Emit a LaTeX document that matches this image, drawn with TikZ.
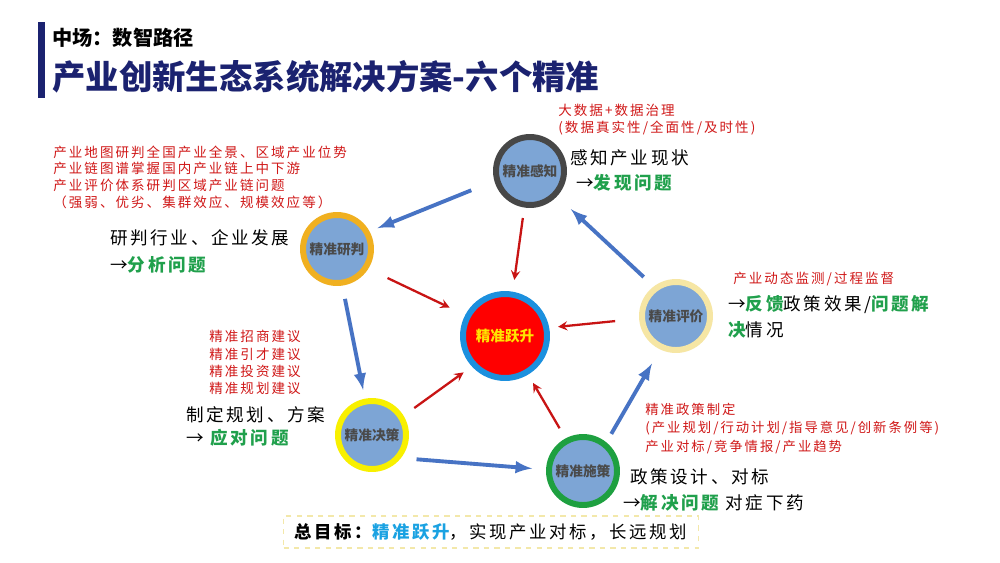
\documentclass[tikz,border=0pt]{standalone}
\usepackage{fontspec}
\setmainfont{Noto Sans CJK SC}
\newfontfamily\widecjk[LetterSpace=15]{Noto Sans CJK SC}
\usetikzlibrary{arrows}
\definecolor{navy}{HTML}{1B2270}
\definecolor{cellblue}{HTML}{7DA5D5}
\definecolor{flowblue}{HTML}{4773C4}
\definecolor{liftred}{HTML}{C81414}
\definecolor{notered}{HTML}{D01818}
\definecolor{okgreen}{HTML}{20A04C}
\definecolor{ringtext}{HTML}{4A4A4A}
\definecolor{goalblue}{HTML}{1AA2E2}

\begin{document}
\begin{tikzpicture}[x=0.02cm,y=-0.02cm,
  cell/.style={circle,minimum size=1.36cm,inner sep=0pt,outer sep=0pt,line width=3.4pt,fill=cellblue,
    text=ringtext,font=\fontsize{7.8}{9}\selectfont\bfseries},
  flow/.style={->,>=latex,line width=2.2pt,draw=flowblue},
  lift/.style={->,>=stealth,line width=1.3pt,draw=liftred},
  redtxt/.style={anchor=west,align=left,inner sep=0pt,text=notered,font=\widecjk\fontsize{7.7}{9.8}\selectfont},
  blacktxt/.style={anchor=west,align=left,inner sep=0pt,font=\widecjk\fontsize{10}{15}\selectfont}]
 \useasboundingbox (0,0) rectangle (1000,562);
 \fill[white] (0,0) rectangle (1000,562);

 % heading
 \fill[navy] (38,22) rectangle (45,98);
 \node[anchor=west,inner sep=0pt,font=\fontsize{11.5}{13}\selectfont\bfseries] (sub) at (52,38) {中场：数智路径};
 \node[anchor=west,inner sep=0pt,text=navy,font=\fontsize{19}{21}\selectfont\bfseries] (title) at (52,77) {产业创新生态系统解决方案-六个精准};

 % circles
 \node[cell,draw=black!72] (zhi) at (530,171) {精准感知};
 \node[cell,draw={rgb,255:red,240;green,176;blue,32}] (pan) at (337,249) {精准研判};
 \node[cell,draw={rgb,255:red,246;green,230;blue,164}] (ping) at (676,316) {精准评价};
 \node[cell,draw={rgb,255:red,248;green,240;blue,0}] (ce) at (372,435) {精准决策};
 \node[cell,draw={rgb,255:red,30;green,160;blue,64}] (shi) at (583,471) {精准施策};
 \node[circle,minimum size=1.68cm,inner sep=0pt,outer sep=0pt,line width=3.4pt,draw={rgb,255:red,28;green,144;blue,222},fill=red,
   text={rgb,255:red,255;green,228;blue,0},font=\fontsize{8.3}{10}\selectfont\bfseries] (yue) at (505,336) {精准跃升};

 % cycle
 \draw[flow,shorten <=15.9pt,shorten >=6.6pt] (zhi.195) -- (pan.29);
 \draw[flow,shorten <=9.4pt,shorten >=6.8pt] (pan.-82) -- (ce.101);
 \draw[flow,shorten <=11pt,shorten >=9.7pt] (ce.-42) -- (shi.178);
 \draw[flow,shorten <=7.3pt,shorten >=11pt] (shi.50) -- (ping.245);
 \draw[flow,shorten <=9.6pt,shorten >=12.5pt] (ping.126) -- (zhi.-43);

 % into the centre
 \draw[lift,shorten <=7.7pt,shorten >=8.5pt] (zhi.261) -- (yue.80);
 \draw[lift,shorten <=13.9pt,shorten >=11.5pt] (pan.-33) -- (yue.152);
 \draw[lift,shorten <=15.4pt,shorten >=6.8pt] (ping.184) -- (yue.11);
 \draw[lift,shorten <=9.2pt,shorten >=7.5pt] (ce.31) -- (yue.223);
 \draw[lift,shorten <=8.4pt,shorten >=7.2pt] (shi.118) -- (yue.-59);

 % notes
 \node[redtxt] (zhinote) at (558,119.7) {大数据+数据治理\\(数据真实性/全面性/及时性)};
 \node[blacktxt] (zhitxt) at (570,158) {感知产业现状};
 \node[blacktxt] (zhigoal) at (576,183) {→\textcolor{okgreen}{\bfseries 发现问题}};

 \node[redtxt,font=\widecjk\fontsize{7.7}{9.5}\selectfont] (pannote) at (53,177) {产业地图研判全国产业全景、区域产业位势\\产业链图谱掌握国内产业链上中下游\\产业评价体系研判区域产业链问题\\（强弱、优劣、集群效应、规模效应等）};
 \node[blacktxt,font=\widecjk\fontsize{10}{15.4}\selectfont] (pantxt) at (110,251.5) {研判行业、企业发展\\→\textcolor{okgreen}{\bfseries 分析问题}};

 \node[redtxt] (cenote) at (209,362.5) {精准招商建议\\精准引才建议\\精准投资建议\\精准规划建议};
 \node[blacktxt,font=\widecjk\fontsize{10}{13.3}\selectfont] (cetxt) at (186,426.7) {制定规划、方案\\→ \textcolor{okgreen}{\bfseries 应对问题}};

 \node[redtxt] (pingnote) at (733,279) {产业动态监测/过程监督};
 \node[blacktxt,font=\widecjk\fontsize{10}{15.2}\selectfont] (pingtxt) at (728,316.7) {→\textcolor{okgreen}{\bfseries 反馈}政策效果/\textcolor{okgreen}{\bfseries 问题解}\\\textcolor{okgreen}{\bfseries 决}情况};

 \node[redtxt,font=\widecjk\fontsize{7.6}{10.6}\selectfont] (shinote) at (645,428.5) {精准政策制定\\(产业规划/行动计划/指导意见/创新条例等)\\产业对标/竞争情报/产业趋势};
 \node[blacktxt] (shitxt) at (630,477) {政策设计、对标};
 \node[blacktxt] (shigoal) at (623,503) {→\textcolor{okgreen}{\bfseries 解决问题} 对症下药};

 % goal
 \node[draw={rgb,255:red,243;green,232;blue,170},dashed,line width=1pt,minimum width=8.3cm,minimum height=0.64cm,
   font=\widecjk\fontsize{9.9}{11}\selectfont] (goal) at (491,532) {\bfseries 总目标：\textcolor{goalblue}{精准跃升}\mdseries，实现产业对标，长远规划};
\end{tikzpicture}
\end{document}
